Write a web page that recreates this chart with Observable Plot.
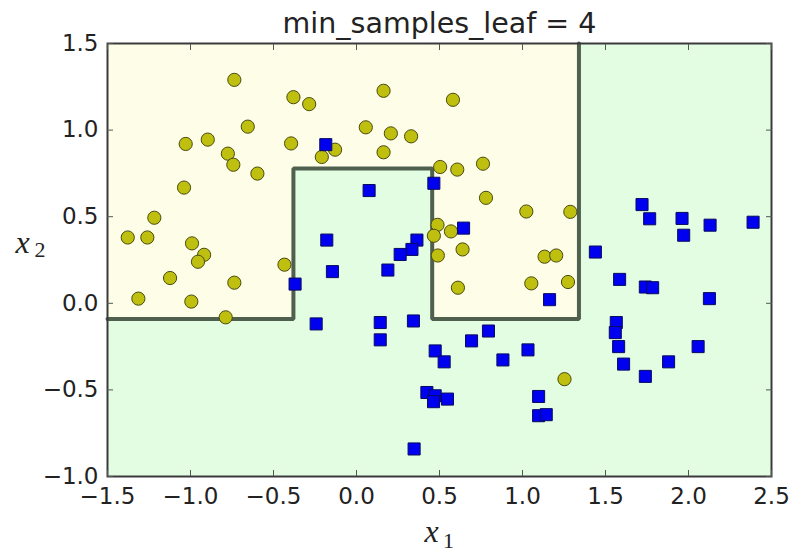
<!DOCTYPE html>
<html>
<head>
<meta charset="utf-8">
<script src="https://cdn.jsdelivr.net/npm/d3@7"></script>
<script src="https://cdn.jsdelivr.net/npm/@observablehq/plot@0.6"></script>
<style>
  html, body { margin: 0; padding: 0; background: #ffffff; }
  #chart { width: 794px; height: 554px; }
</style>
</head>
<body>
<div id="chart"></div>
<script>
// ---- data ----
const title = "min_samples_leaf = 4";
const xTicks = [-1.5, -1.0, -0.5, 0.0, 0.5, 1.0, 1.5, 2.0, 2.5];
const yTicks = [-1.0, -0.5, 0.0, 0.5, 1.0, 1.5];

// class 0 (yellow circles)
const yellowX = [-0.736, -0.38, -0.285, -0.655, -1.029, -0.896, -0.775, -0.742, -0.597, -0.394,
  -0.129, -0.209, -1.039, -1.218, -1.378, -1.26, -0.991, -0.918, -0.955, -1.123,
  -0.736, -1.314, -0.995, -0.788, -0.434, 0.163, 0.581, 0.056, 0.207, 0.329,
  0.163, 0.504, 0.607, 0.762, 0.78, 1.023, 1.288, 0.488, 0.569, 0.466,
  0.49, 0.639, 1.133, 1.203, 0.611, 1.053, 1.274, 1.253];
const yellowY = [1.29, 1.19, 1.15, 1.02, 0.92, 0.945, 0.864, 0.80, 0.749, 0.923,
  0.887, 0.845, 0.668, 0.494, 0.38, 0.38, 0.346, 0.28, 0.24, 0.146,
  0.119, 0.027, 0.01, -0.081, 0.223, 1.227, 1.175, 1.016, 0.981, 0.964,
  0.872, 0.787, 0.772, 0.806, 0.609, 0.53, 0.528, 0.453, 0.415, 0.39,
  0.276, 0.311, 0.269, 0.276, 0.09, 0.115, 0.123, -0.438];

// class 1 (blue squares)
const blueX = [-0.185, -0.179, -0.145, -0.37, -0.243, 0.466, 0.076, 0.645, 0.364, 0.334,
  0.263, 0.189, 1.163, 0.143, 0.343, 0.143, 0.795, 0.693, 0.474, 0.528,
  1.033, 0.882, 0.424, 0.474, 0.464, 0.548, 1.097, 1.097, 1.143, 0.347,
  1.72, 1.766, 1.961, 1.971, 2.13, 2.389, 1.439, 1.585, 1.74, 1.784,
  2.126, 1.565, 1.559, 1.579, 1.609, 1.74, 1.88, 2.058];
const blueY = [0.916, 0.365, 0.183, 0.111, -0.119, 0.693, 0.651, 0.434, 0.365, 0.311,
  0.282, 0.192, 0.021, -0.111, -0.102, -0.211, -0.16, -0.217, -0.275, -0.338,
  -0.269, -0.327, -0.515, -0.534, -0.568, -0.553, -0.538, -0.649, -0.643, -0.841,
  0.57, 0.488, 0.49, 0.393, 0.451, 0.468, 0.296, 0.138, 0.094, 0.09,
  0.027, -0.111, -0.169, -0.25, -0.351, -0.422, -0.338, -0.25];

// yellow decision regions (rest of the plane is the green class)
const regionX1 = [-1.5, -0.38, 0.456];
const regionX2 = [-0.38, 0.456, 1.34];
const regionY1 = [-0.09, 0.778, -0.09];
const regionY2 = [1.5, 1.5, 1.5];

// decision boundary polyline
const boundaryX = [-1.5, -0.38, -0.38, 0.456, 0.456, 1.34, 1.34];
const boundaryY = [-0.09, -0.09, 0.778, 0.778, -0.09, -0.09, 1.5];

// ---- build tables ----
const yellowPts = yellowX.map((x, i) => ({x, y: yellowY[i]}));
const bluePts = blueX.map((x, i) => ({x, y: blueY[i]}));
const regions = regionX1.map((x1, i) => ({x1, x2: regionX2[i], y1: regionY1[i], y2: regionY2[i]}));
const boundary = boundaryX.map((x, i) => ({x, y: boundaryY[i]}));
const fmt = d => d.toFixed(1).replace("-", "\u2212");

const chart = Plot.plot({
  width: 794,
  height: 554,
  marginLeft: 107,
  marginRight: 23,
  marginTop: 43,
  marginBottom: 78,
  style: {fontFamily: "DejaVu Sans", background: "#ffffff", color: "#222"},
  x: {domain: [-1.5, 2.5]},
  y: {domain: [-1.0, 1.5]},
  marks: [
    Plot.frame({fill: "#e3fde2"}),
    Plot.rect(regions, {x1: "x1", x2: "x2", y1: "y1", y2: "y2", fill: "#fefee8"}),
    Plot.line(boundary, {x: "x", y: "y", stroke: "#4f604f", strokeWidth: 4, strokeLinejoin: "miter"}),
    Plot.dot(yellowPts, {x: "x", y: "y", r: 6.6, fill: "#bfbf10", stroke: "#4a4a10", strokeWidth: 1}),
    Plot.dot(bluePts, {x: "x", y: "y", r: 6.8, symbol: "square", fill: "#0000f0", stroke: "#0a0a60", strokeWidth: 1}),
    Plot.frame({stroke: "#3a3a3a", strokeWidth: 2}),
    // inward ticks on all four sides
    Plot.axisX(xTicks, {anchor: "bottom", tickSize: -6, fill: "none", label: null, stroke: "#555"}),
    Plot.axisX(xTicks, {anchor: "top", tickSize: -6, fill: "none", label: null, stroke: "#555"}),
    Plot.axisY(yTicks, {anchor: "left", tickSize: -6, fill: "none", label: null, stroke: "#555"}),
    Plot.axisY(yTicks, {anchor: "right", tickSize: -6, fill: "none", label: null, stroke: "#555"}),
    // tick labels
    Plot.axisX(xTicks, {anchor: "bottom", tickSize: 0, tickPadding: 11, label: null, tickFormat: fmt, fontSize: 23, fill: "#222"}),
    Plot.axisY(yTicks, {anchor: "left", tickSize: 0, tickPadding: 9, label: null, tickFormat: fmt, fontSize: 23, fill: "#222"}),
    // title
    Plot.text([title], {frameAnchor: "top", lineAnchor: "top", dy: -31, fontSize: 28.5, fill: "#222"}),
    // axis labels x_1 and x_2
    Plot.text(["x"], {frameAnchor: "bottom", dx: -8, dy: 65, fontSize: 32, fontStyle: "italic", fontFamily: "Liberation Serif", fill: "#222"}),
    Plot.text(["1"], {frameAnchor: "bottom", dx: 9, dy: 71, fontSize: 22, fontFamily: "Liberation Serif", fill: "#222"}),
    Plot.text(["x"], {frameAnchor: "left", dx: -92, dy: -17, fontSize: 32, fontStyle: "italic", fontFamily: "Liberation Serif", fill: "#222"}),
    Plot.text(["2"], {frameAnchor: "left", dx: -73, dy: -10, fontSize: 22, fontFamily: "Liberation Serif", fill: "#222"})
  ]
});
document.getElementById("chart").appendChild(chart);
</script>
</body>
</html>
